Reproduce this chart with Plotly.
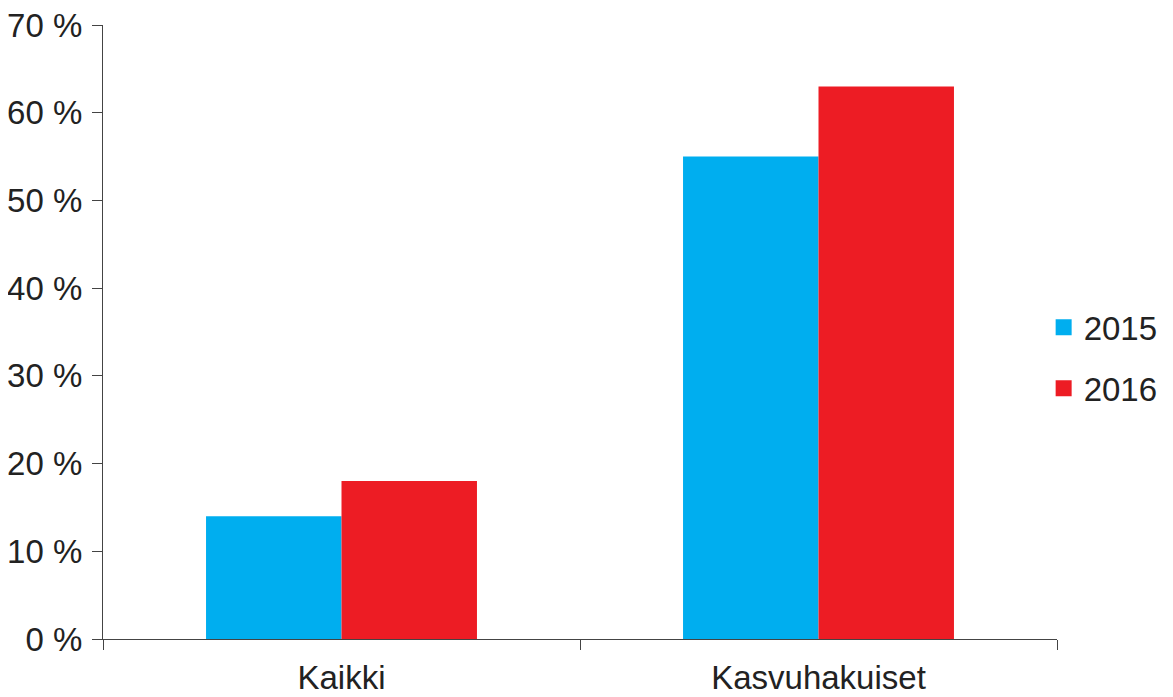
import plotly.graph_objects as go

categories = ["Kaikki", "Kasvuhakuiset"]
series_names = ["2015", "2016"]
values_2015 = [14, 55]
values_2016 = [18, 63]
colors = ["#00AEEF", "#ED1C24"]
y_ticks = [0, 10, 20, 30, 40, 50, 60, 70]
y_tick_labels = ["0 %", "10 %", "20 %", "30 %", "40 %", "50 %", "60 %", "70 %"]

FONT = "Liberation Sans"
fig = go.Figure()
for name, vals, col in zip(series_names, [values_2015, values_2016], colors):
    fig.add_trace(go.Bar(name=name, x=categories, y=vals, showlegend=False,
                         marker=dict(color=col, line=dict(width=0))))
# legend entries with larger square symbols
for name, col in zip(series_names, colors):
    fig.add_trace(go.Scatter(name=name, x=[None], y=[None], mode="markers",
                             legendgroup=name,
                             marker=dict(symbol="square", size=21, color=col)))

fig.update_layout(
    width=1165, height=689,
    barmode="group", bargap=0.432, bargroupgap=0,
    plot_bgcolor="white", paper_bgcolor="white",
    margin=dict(l=95, r=116, t=17, b=58, autoexpand=False),
    font=dict(family=FONT, size=33, color="#222"),
    legend=dict(x=0.986, y=0.458, xanchor="left", yanchor="middle",
                font=dict(size=33), tracegroupgap=15, itemwidth=30,
                bgcolor="rgba(0,0,0,0)"),
    showlegend=True,
)
fig.update_xaxes(showline=True, linecolor="#444", linewidth=1.2, automargin=False,
                 ticks="outside", tickson="boundaries", ticklen=10, tickcolor="#444",
                 ticklabelstandoff=9, ticklabeloverflow="allow",
                 showgrid=False, zeroline=False)
fig.update_yaxes(range=[0, 70], tickvals=y_ticks, ticktext=y_tick_labels,
                 showline=True, linecolor="#444", linewidth=1.2, automargin=False,
                 ticks="outside", ticklen=10, tickcolor="#444",
                 ticklabelstandoff=3, ticklabeloverflow="allow",
                 showgrid=False, zeroline=False)

fig.write_html("out.html")
